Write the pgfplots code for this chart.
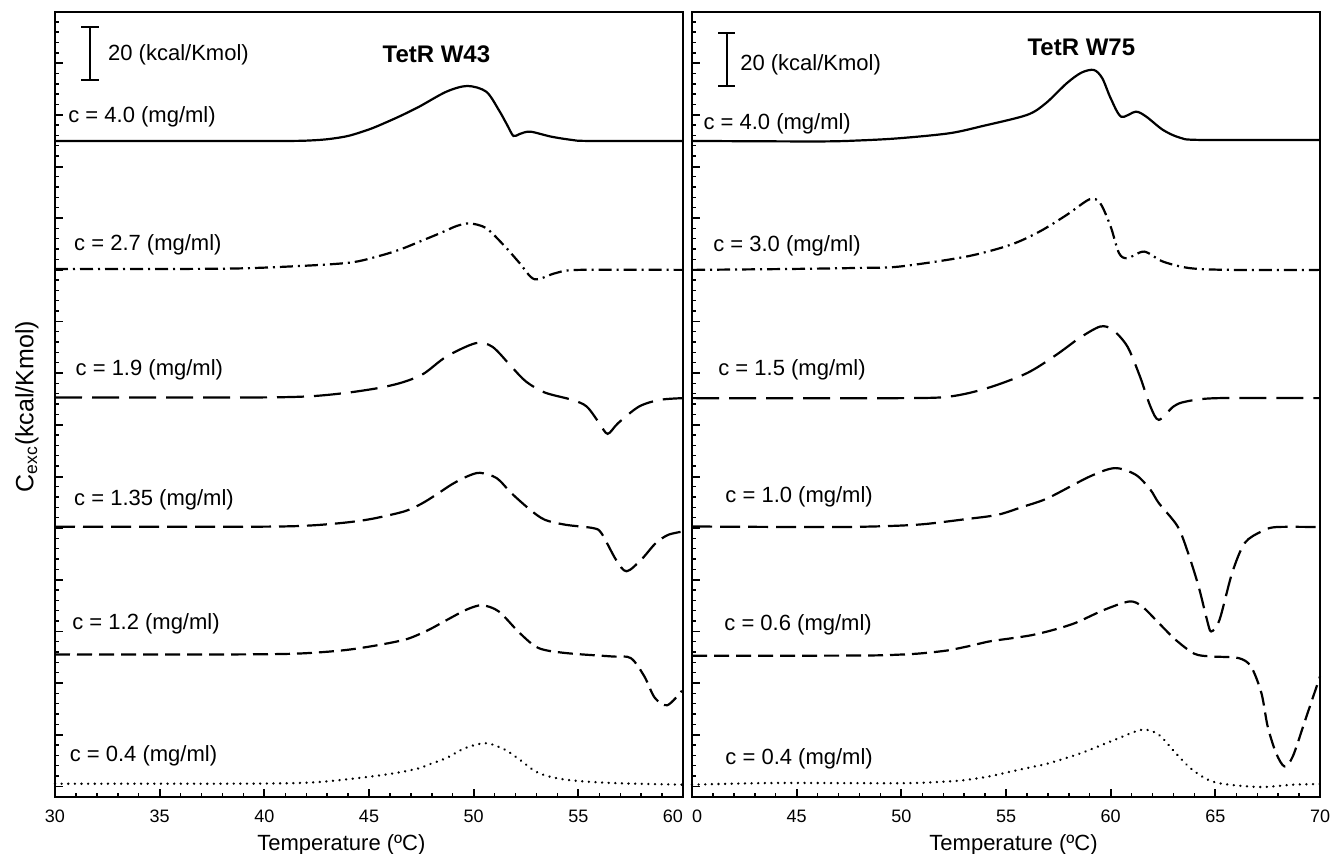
\documentclass[border=0pt]{standalone}
\usepackage{fontspec}
\setmainfont{Liberation Sans}
\usepackage{pgfplots}
\pgfplotsset{compat=1.18}
\pgfplotsset{
  dsc/.style={
    scale only axis, width=314pt, height=392.5pt,
    ymin=-797, ymax=-11.7,
    ytick={-786.8,-735.1,-683.5,-631.8,-580.1,-528.4,-476.8,-425.1,-373.4,-321.7,-270.1,-218.4,-166.7,-115.0,-63.4,-11.7},
    minor ytick={-796.9,-786.566,...,-12},
    yticklabels={},
    xtick pos=bottom, ytick pos=left, tick align=inside,
    major tick length=4pt, minor tick length=2pt,
    axis line style={line width=1.1pt},
    major tick style={line width=0.9pt,black},
    minor tick style={line width=0.7pt,black},
    tick label style={font=\fontsize{9}{10}\selectfont},
    /pgf/number format/assume math mode=true,
    xticklabel style={yshift=-3pt},
    clip=false,
    every axis plot/.append style={line width=1.1pt, black, smooth, tension=0.5, no markers},
  },
}
\tikzset{
  lab/.style={anchor=west, inner sep=0pt, font=\fontsize{11}{13}\selectfont},
  sdd/.style={dash pattern=on 6.5pt off 2.5pt on 1pt off 2.5pt},
  sld/.style={dash pattern=on 13.5pt off 5pt},
  smd/.style={dash pattern=on 10pt off 4pt},
  ssd/.style={dash pattern=on 7.5pt off 3.5pt},
  sdot/.style={dash pattern=on 0.01pt off 3.3pt, line cap=round, line width=1.3pt},
}
\begin{document}
\begin{tikzpicture}
\useasboundingbox (0,0) rectangle (666pt,-427pt);
% ---------------- left panel ----------------
\begin{axis}[dsc, at={(27.5pt,-5.85pt)}, anchor=north west,
  xmin=30, xmax=60, xtick={30,35,40,45,50,55,60}, minor xtick={31,...,59},
  xticklabels={30,35,40,45,50,55,\llap{60}}]
\addplot[solid] coordinates {(30,-141) (38,-141) (41,-141) (42,-140.7) (43,-139.3) (44,-136) (45,-129.5) (45.7,-123.5) (46.5,-116) (47.4,-106.7) (48.7,-91.7) (49.7,-86) (50.6,-91.7) (51.2,-110) (51.6,-125) (51.9,-136) (52.2,-134) (52.7,-131.7) (53.7,-136.7) (54.7,-140) (55.5,-141) (60,-141)};
\addplot[sdd] coordinates {(30,-269.2) (38,-268.8) (41.5,-266.3) (44.1,-262.7) (45.5,-256) (46.5,-249.5) (47.5,-241) (48.2,-235) (48.7,-230.5) (49.2,-226) (49.8,-223.5) (50.6,-228.3) (51.5,-246.7) (52.2,-263.3) (52.9,-279.3) (53.9,-273.3) (55.0,-270) (60,-270)};
\addplot[sld] coordinates {(30,-397.7) (38,-397.7) (41,-397.3) (42.5,-396) (44,-392.8) (45.5,-388) (46.6,-382.5) (47.6,-374) (48.7,-356.7) (50.1,-343.3) (50.9,-347) (51.8,-366.7) (52.5,-381.7) (53.4,-392.7) (54.7,-400) (55.4,-406.7) (56.0,-423.3) (56.4,-434) (56.9,-423.3) (57.9,-406.7) (58.9,-400) (60,-398.3)};
\addplot[smd] coordinates {(30,-527) (38,-527) (41,-526.6) (42.5,-525.3) (44,-522.5) (45.2,-518.8) (46.7,-511.5) (47.5,-504) (48.2,-495) (49.0,-484) (49.7,-476.5) (50.3,-473) (51.1,-478.3) (51.8,-493.3) (52.7,-510) (53.4,-520) (54.4,-525) (55.7,-528.3) (56.1,-533.3) (56.8,-560) (57.3,-571.5) (58.0,-560) (58.7,-543.3) (59.3,-535) (60,-531.7)};
\addplot[ssd] coordinates {(30,-654.7) (38,-654.7) (41,-654.2) (42.5,-652.8) (44,-650) (45.4,-645.5) (46.7,-640) (47.4,-634.5) (48.0,-628.5) (49.0,-617) (49.7,-609.5) (50.4,-605.5) (51.2,-611.7) (52.2,-633.3) (53.1,-648.3) (54.4,-653.3) (56.6,-656.7) (57.5,-658.3) (58.15,-676.5) (58.65,-698) (59.25,-705.5) (59.95,-691)};
\addplot[sdot] coordinates {(30,-784) (38,-784) (41,-783.6) (42.5,-782.5) (44,-779.5) (45.4,-776) (46.5,-772.5) (47.4,-768.5) (47.9,-764.5) (48.7,-758.3) (49.6,-748.3) (50.6,-743.5) (51.5,-750) (52.2,-760) (53.1,-773.3) (54.4,-780) (56.6,-783.3) (60,-785)};
\node[lab] at (axis cs:30.62,-117) {c = 4.0 (mg/ml)};
\node[lab] at (axis cs:30.9,-245) {c = 2.7 (mg/ml)};
\node[lab] at (axis cs:30.97,-370) {c = 1.9 (mg/ml)};
\node[lab] at (axis cs:30.9,-500.5) {c = 1.35 (mg/ml)};
\node[lab] at (axis cs:30.81,-624) {c = 1.2 (mg/ml)};
\node[lab] at (axis cs:30.69,-756.5) {c = 0.4 (mg/ml)};
\draw[line width=1pt] (axis cs:31.67,-26.7) -- (axis cs:31.67,-80);
\draw[line width=1pt] (axis cs:31.255,-26.7) -- (axis cs:32.085,-26.7);
\draw[line width=1pt] (axis cs:31.255,-80) -- (axis cs:32.085,-80);
\node[lab] at (axis cs:32.52,-55) {20 (kcal/Kmol)};
\node[font=\bfseries\fontsize{12}{14}\selectfont] at (axis cs:48.22,-54) {TetR W43};
\node[font=\fontsize{11}{13}\selectfont] at (rel axis cs:0.456,0) [yshift=-24pt] {Temperature (ºC)};
\node[rotate=90, font=\fontsize{12.5}{14}\selectfont] at (rel axis cs:-0.0446,0.497) {C\textsubscript{exc}(kcal/Kmol)};
\end{axis}
% ---------------- right panel ----------------
\begin{axis}[dsc, at={(346pt,-5.85pt)}, anchor=north west,
  xmin=40, xmax=70, xtick={40,45,50,55,60,65,70}, minor xtick={41,...,69},
  xticklabels={\rlap{0},45,50,55,60,65,70}]
\addplot[solid] coordinates {(40,-141) (46,-141.5) (48,-140.5) (49.9,-138.3) (52.3,-133.3) (53.9,-126) (56.0,-115) (56.9,-103.3) (57.9,-83.3) (58.6,-72.7) (59.2,-70) (59.6,-78.3) (60.0,-98.3) (60.5,-116.7) (61.2,-111.7) (61.7,-116.7) (62.5,-130) (63.3,-137.7) (64.3,-140) (70,-140)};
\addplot[sdd] coordinates {(40,-270) (45,-269) (48,-268) (49.9,-266.7) (53.1,-256.7) (55.2,-245) (56.6,-231.7) (57.9,-215) (59.0,-199.3) (59.5,-203.3) (60.0,-226.7) (60.4,-253.3) (60.8,-258.3) (61.6,-251.7) (62.5,-261.7) (63.8,-268.3) (65.8,-270) (70,-270)};
\addplot[sld] coordinates {(40,-398.3) (49.9,-398.3) (52.3,-396.7) (54.1,-388.3) (56.0,-373.3) (57.4,-355) (58.5,-338.3) (59.5,-326.7) (60.1,-330) (60.8,-346.7) (61.4,-376.7) (61.9,-406.7) (62.3,-420) (63.0,-406.7) (63.6,-401.7) (65.1,-398.3) (70,-398.3)};
\addplot[smd] coordinates {(40,-526.7) (46.3,-527.3) (49,-526.5) (51.0,-524.5) (53.1,-519.3) (54.6,-515) (55.8,-507) (57.0,-498.3) (59.0,-476.7) (60.2,-468.3) (61.2,-475) (61.9,-490) (62.3,-503.3) (63.2,-526.7) (63.7,-553.3) (64.2,-586.7) (64.6,-620) (64.8,-631.7) (65.2,-620) (65.8,-573.3) (66.4,-543.3) (67.2,-531.7) (67.9,-527.3) (70,-527.3)};
\addplot[ssd] coordinates {(40,-656) (48,-655.8) (50,-654.8) (51,-653.5) (52.2,-650.7) (53.2,-646.5) (54.2,-641.7) (55.2,-638.7) (56.2,-635.5) (57.2,-630.5) (58.3,-623.3) (59.7,-610) (60.9,-601.7) (61.5,-606.7) (62.3,-623.3) (63.1,-640) (64.0,-654) (64.8,-656.7) (66.1,-658.3) (66.7,-666.7) (67.2,-693.3) (67.5,-726.7) (67.9,-753.3) (68.3,-766.7) (68.7,-756.7) (69.3,-720) (70,-676.7)};
\addplot[sdot] coordinates {(40,-785) (43.9,-783.3) (50,-783.5) (52,-782) (53,-780.5) (54.2,-776.7) (55.2,-772) (56.2,-767.5) (57.0,-763.8) (58.6,-753.3) (60.2,-740) (61.5,-730) (62.3,-735) (63.1,-753.3) (63.9,-770) (65.0,-782.7) (67.1,-787.3) (68.7,-785) (70,-784.3)};
\node[lab] at (axis cs:40.53,-124) {c = 4.0 (mg/ml)};
\node[lab] at (axis cs:41.0,-246) {c = 3.0 (mg/ml)};
\node[lab] at (axis cs:41.24,-370) {c = 1.5 (mg/ml)};
\node[lab] at (axis cs:41.58,-497) {c = 1.0 (mg/ml)};
\node[lab] at (axis cs:41.53,-625) {c = 0.6 (mg/ml)};
\node[lab] at (axis cs:41.58,-759) {c = 0.4 (mg/ml)};
\draw[line width=1pt] (axis cs:41.66,-32.7) -- (axis cs:41.66,-86);
\draw[line width=1pt] (axis cs:41.245,-32.7) -- (axis cs:42.075,-32.7);
\draw[line width=1pt] (axis cs:41.245,-86) -- (axis cs:42.075,-86);
\node[lab] at (axis cs:42.29,-65) {20 (kcal/Kmol)};
\node[font=\bfseries\fontsize{12}{14}\selectfont] at (axis cs:58.6,-47) {TetR W75};
\node[font=\fontsize{11}{13}\selectfont] at (rel axis cs:0.512,0) [yshift=-24pt] {Temperature (ºC)};
\end{axis}
\end{tikzpicture}
\end{document}
